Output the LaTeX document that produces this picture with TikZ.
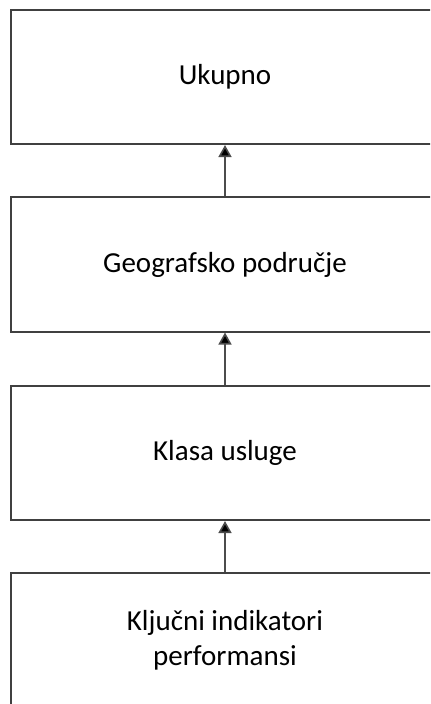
\documentclass[tikz,border=0pt]{standalone}
\usepackage{fontspec}
\setmainfont{Carlito}
\usetikzlibrary{arrows.meta}
\begin{document}
\begin{tikzpicture}[x=1bp,y=-1bp,
  lvl/.style={draw=black!75, line width=1.6bp, rectangle, minimum width=428bp, minimum height=134.5bp,
    inner sep=0pt, align=center, font=\fontsize{29bp}{35bp}\selectfont, text=black},
  conn/.style={draw=black!70, line width=1.6bp, -{Triangle[width=13bp,length=12bp,fill=black]}}]
\useasboundingbox (0,0) rectangle (430,704);
\clip (0,0) rectangle (430,704);
\fill[white] (0,0) rectangle (430,704);
\node[lvl] (a) at (225,77) {Ukupno};
\node[lvl] (b) at (225,264.5) {Geografsko područje};
\node[lvl] (c) at (225,453) {Klasa usluge};
\node[lvl] (d) at (225,640.5) {Ključni indikatori\\performansi};
\draw[conn] (b.north) -- (a.south);
\draw[conn] (c.north) -- (b.south);
\draw[conn] (d.north) -- (c.south);
\end{tikzpicture}
\end{document}
